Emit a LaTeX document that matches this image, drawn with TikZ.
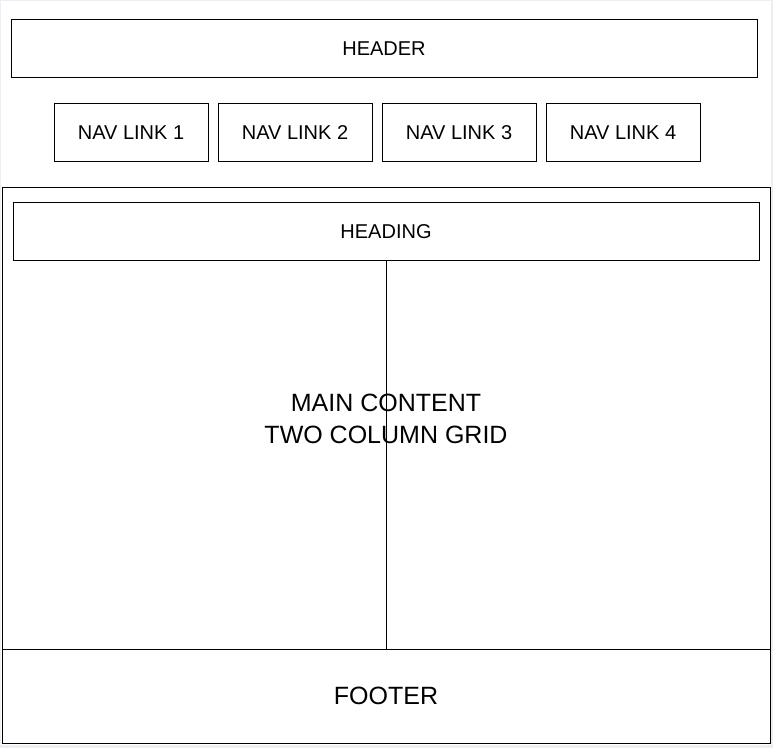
\documentclass[tikz,border=0pt]{standalone}
\usepackage{fontspec}
\setmainfont{Liberation Sans}
\definecolor{pageedge}{HTML}{EBEEF3}
\tikzset{
    boxline/.style={draw=black, line width=0.75pt},
    smalltext/.style={font=\fontsize{15}{18}\selectfont, inner sep=0pt},
    bigtext/.style={font=\fontsize{18.75}{24}\selectfont, inner sep=0pt, align=center}
}
\begin{document}
\begin{tikzpicture}[x=0.75pt, y=-0.75pt]
        \fill[pageedge] (0, 0) rectangle (773, 748);
        \fill[white] (1, 1) rectangle (770.5, 745);
        \useasboundingbox (0, 0) rectangle (773, 748);
        
        \draw[boxline] (11, 20) rectangle (757, 78);
        \node[smalltext] (header) at (384, 49) {HEADER};
        
        \draw[boxline] (54, 104) rectangle (208, 162);
        \node[smalltext] (nav1) at (131, 133) {NAV LINK 1};
        \draw[boxline] (218, 104) rectangle (372, 162);
        \node[smalltext] (nav2) at (295, 133) {NAV LINK 2};
        \draw[boxline] (382, 104) rectangle (536, 162);
        \node[smalltext] (nav3) at (459, 133) {NAV LINK 3};
        \draw[boxline] (546, 104) rectangle (700, 162);
        \node[smalltext] (nav4) at (623, 133) {NAV LINK 4};
        
        \draw[boxline] (2.5, 188) rectangle (770, 649);
        \draw[boxline] (13, 203) rectangle (759, 261);
        \node[smalltext] (heading) at (386, 232) {HEADING};
        
        \draw[boxline] (386, 261) -- (386, 649);
        \node[bigtext] (main) at (386, 419) {MAIN CONTENT\\TWO COLUMN GRID};
        
        \draw[boxline] (2.5, 649) rectangle (770, 743);
        \node[bigtext] (footer) at (386, 696) {FOOTER};
        \end{tikzpicture}
\end{document}
